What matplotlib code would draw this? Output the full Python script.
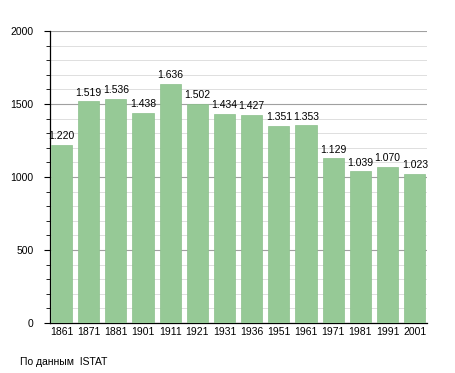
import numpy as np
import matplotlib.pyplot as plt
from matplotlib.ticker import MultipleLocator

plt.rcParams['font.family'] = ['Liberation Sans', 'DejaVu Sans']

# население по годам переписи
years = ['1861', '1871', '1881', '1901', '1911', '1921', '1931',
         '1936', '1951', '1961', '1971', '1981', '1991', '2001']
population = [1220, 1519, 1536, 1438, 1636, 1502, 1434,
              1427, 1351, 1353, 1129, 1039, 1070, 1023]
labels = ['1.220', '1.519', '1.536', '1.438', '1.636', '1.502', '1.434',
          '1.427', '1.351', '1.353', '1.129', '1.039', '1.070', '1.023']

fig = plt.figure(figsize=(4.55, 3.73), dpi=100)
ax = fig.add_axes([50 / 455, 1 - 323 / 373, 377 / 455, 292 / 373])

x = np.arange(len(years))
ax.bar(x, population, width=0.78, color='#96c996', edgecolor='#8cc08c',
       linewidth=0.5, zorder=3)

for xi, v, lab in zip(x, population, labels):
    ax.text(xi, v + 25, lab, ha='center', va='bottom', fontsize=7.5,
            color='black', zorder=4)

ax.set_xlim(-0.42, len(years) - 0.55)
ax.set_ylim(0, 2000)
ax.set_xticks(x)
ax.set_xticklabels(years)
ax.set_yticks([0, 500, 1000, 1500, 2000])
ax.yaxis.set_minor_locator(MultipleLocator(100))

ax.grid(axis='y', which='major', color='#a0a0a0', linewidth=0.8, zorder=0)
ax.grid(axis='y', which='minor', color='#dedede', linewidth=0.7, zorder=0)

for s in ['top', 'right']:
    ax.spines[s].set_visible(False)
ax.spines['left'].set_linewidth(0.9)
ax.spines['bottom'].set_linewidth(0.9)

ax.tick_params(axis='x', length=0, labelsize=7.5, pad=3, labelcolor='black')
ax.tick_params(axis='y', which='major', length=4, labelsize=7.5, pad=8,
               labelcolor='black')
ax.tick_params(axis='y', which='minor', length=3)

fig.text(20 / 455, 1 - 362 / 373, 'По данным  ISTAT', fontsize=7.5,
         ha='left', va='center')

fig.savefig('out.png', dpi=100)
